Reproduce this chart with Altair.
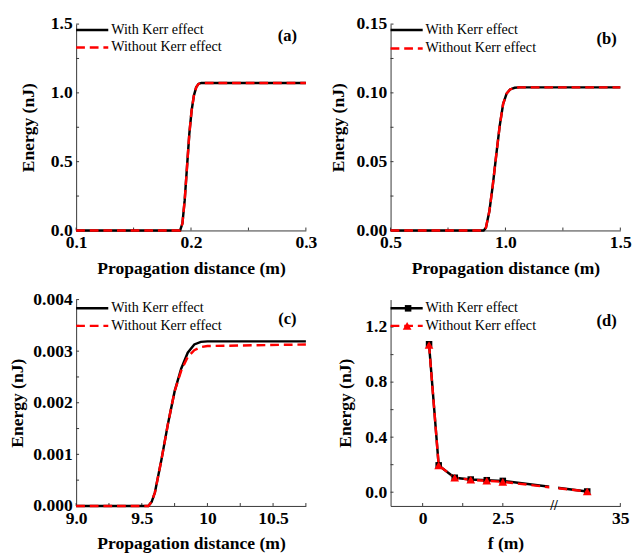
import altair as alt
import pandas as pd

FONT = "Liberation Serif"
BLACK = "#000000"
RED = "#ff0000"
AXC = "#333333"

# ---------------- data ----------------
# (a)
a_x = [0.10, 0.15, 0.188, 0.1905, 0.1925, 0.1945, 0.1965, 0.1985, 0.2005, 0.2025, 0.2045, 0.2065, 0.209, 0.25, 0.30]
a_kerr = [0, 0, 0, 0.0, 0.05, 0.22, 0.46, 0.70, 0.87, 0.98, 1.04, 1.065, 1.072, 1.072, 1.072]
a_nokerr = [0, 0, 0, 0.0, 0.05, 0.22, 0.46, 0.70, 0.87, 0.98, 1.04, 1.065, 1.072, 1.072, 1.072]
a_xticks = [0.1, 0.15, 0.2, 0.25, 0.3]
a_yticks = [0, 0.25, 0.5, 0.75, 1.0, 1.25, 1.5]

# (b)
b_x = [0.5, 0.8, 0.905, 0.915, 0.93, 0.945, 0.96, 0.975, 0.99, 1.005, 1.02, 1.04, 1.06, 1.5]
b_kerr = [0, 0, 0, 0.002, 0.014, 0.033, 0.055, 0.076, 0.092, 0.0995, 0.1025, 0.1037, 0.104, 0.104]
b_nokerr = [0, 0, 0, 0.002, 0.014, 0.033, 0.055, 0.076, 0.092, 0.0995, 0.1025, 0.1037, 0.104, 0.104]
b_xticks = [0.5, 0.75, 1.0, 1.25, 1.5]
b_yticks = [0, 0.025, 0.05, 0.075, 0.10, 0.125, 0.15]

# (c)
c_x = [9.0, 9.4, 9.55, 9.575, 9.60, 9.65, 9.70, 9.75, 9.80, 9.85, 9.90, 9.95, 10.0, 10.75]
c_kerr = [0, 0, 0, 0.00008, 0.00026, 0.00090, 0.00160, 0.00222, 0.00266, 0.00297, 0.00313, 0.00318, 0.00319, 0.00319]
c_nokerr = [0, 0, 0, 0.00008, 0.00026, 0.00090, 0.00160, 0.00222, 0.00262, 0.00289, 0.00302, 0.00308, 0.00310, 0.00313]
c_xticks = [9.0, 9.25, 9.5, 9.75, 10.0, 10.25, 10.5, 10.75]
c_yticks = [0, 0.0005, 0.001, 0.0015, 0.002, 0.0025, 0.003, 0.0035, 0.004]

# (d)
d_f = [0.2, 0.5, 1.0, 1.5, 2.0, 2.5, 32.5]
d_kerr = [1.075, 0.195, 0.105, 0.092, 0.087, 0.082, 0.005]
d_nokerr = [1.07, 0.195, 0.105, 0.090, 0.083, 0.075, 0.005]
d_break = [4.1]
d_xticks = [0, 1.25, 2.5, 35]
d_yticks = [0, 0.2, 0.4, 0.6, 0.8, 1.0, 1.2]

LEG_KERR = "With Kerr effect"
LEG_NOKERR = "Without Kerr effect"

W, H = 236, 212
TICK = 3
SQ_SIZE = 45
TRI_SIZE = 80


def df(x, y):
    return pd.DataFrame({"x": x, "y": y})


def axis_x(values, fmt=None, expr=None, title="Propagation distance (m)"):
    kw = dict(values=values, title=title, labelFlush=False, labelOverlap=False, titlePadding=8)
    if fmt:
        kw["format"] = fmt
    if expr:
        kw["labelExpr"] = expr
    return alt.Axis(**kw)


def axis_y(values, fmt, tp):
    return alt.Axis(values=values, format=fmt, title="Energy (nJ)", labelFlush=False,
                    labelOverlap=False, titlePadding=tp)


def ticks(X, Y, xt, yt):
    return [
        alt.Chart(pd.DataFrame({"x": xt})).mark_rule(color=AXC, strokeWidth=1).encode(
            x=X, y=alt.value(H), y2=alt.value(H - TICK)),
        alt.Chart(pd.DataFrame({"y": yt})).mark_rule(color=AXC, strokeWidth=1).encode(
            y=Y, x=alt.value(0), x2=alt.value(TICK)),
    ]


def legend(tag, tag_x, tag_y, y1, y2, markers=False):
    one = pd.DataFrame({"t": [0]})
    layers = [
        alt.Chart(one).mark_rule(color=BLACK, strokeWidth=2.5).encode(
            x=alt.value(0), x2=alt.value(33), y=alt.value(y1)),
        alt.Chart(one).mark_rule(color=RED, strokeWidth=2.5, strokeDash=[9, 5]).encode(
            x=alt.value(0), x2=alt.value(33), y=alt.value(y2)),
    ]
    if markers:
        layers += [
            alt.Chart(one).mark_point(shape="square", filled=True, color=BLACK, size=SQ_SIZE, opacity=1).encode(
                x=alt.value(18), y=alt.value(y1)),
            alt.Chart(one).mark_point(shape="triangle-up", filled=True, color=RED, size=TRI_SIZE, opacity=1).encode(
                x=alt.value(17), y=alt.value(y2)),
        ]
    layers += [
        alt.Chart(pd.DataFrame({"t": [LEG_KERR]})).mark_text(
            align="left", baseline="middle", font=FONT, fontSize=14.5, color=BLACK).encode(
            x=alt.value(36), y=alt.value(y1), text="t:N"),
        alt.Chart(pd.DataFrame({"t": [LEG_NOKERR]})).mark_text(
            align="left", baseline="middle", font=FONT, fontSize=14.5, color=BLACK).encode(
            x=alt.value(36), y=alt.value(y2), text="t:N"),
        alt.Chart(pd.DataFrame({"t": [tag]})).mark_text(
            align="center", baseline="middle", font=FONT, fontSize=17, fontWeight="bold", color=BLACK).encode(
            x=alt.value(tag_x), y=alt.value(tag_y), text="t:N"),
    ]
    return layers


def curve_panel(x, yk, yn, xdom, ydom, xax, yax, xt, yt, tag, tag_x, tag_y, y1, y2):
    X = alt.X("x:Q", scale=alt.Scale(domain=xdom, nice=False, zero=False), axis=xax)
    Y = alt.Y("y:Q", scale=alt.Scale(domain=ydom, nice=False, zero=False), axis=yax)
    k = alt.Chart(df(x, yk)).mark_line(color=BLACK, strokeWidth=2.5).encode(x=X, y=Y)
    n = alt.Chart(df(x, yn)).mark_line(color=RED, strokeWidth=2.5, strokeDash=[9, 5]).encode(x=X, y=Y)
    return alt.layer(*ticks(X, Y, xt, yt), k, n, *legend(tag, tag_x, tag_y, y1, y2)).properties(width=W, height=H)


pa = curve_panel(a_x, a_kerr, a_nokerr, [0.1, 0.3], [0, 1.5],
                 axis_x([0.1, 0.2, 0.3], ".1f"), axis_y([0, 0.5, 1.0, 1.5], ".1f", 13),
                 a_xticks, a_yticks, "(a)", 217, 12, 6, 24)
pb = curve_panel(b_x, b_kerr, b_nokerr, [0.5, 1.5], [0, 0.15],
                 axis_x([0.5, 1.0, 1.5], ".1f"), axis_y([0, 0.05, 0.10, 0.15], ".2f", 9),
                 b_xticks, b_yticks, "(b)", 222, 15, 6, 25)
pc = curve_panel(c_x, c_kerr, c_nokerr, [9.0, 10.75], [0, 0.004],
                 axis_x([9.0, 9.5, 10.0, 10.5], expr="datum.value == 10 ? '10' : format(datum.value, '.1f')"),
                 axis_y([0, 0.001, 0.002, 0.003, 0.004], ".3f", 7),
                 c_xticks, c_yticks, "(c)", 217, 20, 9, 27)

# (d) with broken x axis
XD = alt.X("x:Q", scale=alt.Scale(domain=[-1, 4.1, 30, 35], range=[0, 168, 168, W], nice=False, zero=False),
           axis=axis_x([0, 2.5, 35], expr="datum.value == 2.5 ? '2.5' : format(datum.value, 'd')", title="f (m)"))
YD = alt.Y("y:Q", scale=alt.Scale(domain=[-0.1, 1.4], nice=False, zero=False),
           axis=axis_y([0, 0.4, 0.8, 1.2], ".1f", 11))
dk_line = alt.Chart(df(d_f, d_kerr)).mark_line(color=BLACK, strokeWidth=2.5).encode(x=XD, y=YD)
dk_pts = alt.Chart(df(d_f, d_kerr)).mark_point(shape="square", filled=True, color=BLACK, size=SQ_SIZE, opacity=1).encode(x=XD, y=YD)
dn_line = alt.Chart(df(d_f, d_nokerr)).mark_line(color=RED, strokeWidth=2.5, strokeDash=[9, 5]).encode(x=XD, y=YD)
dn_pts = alt.Chart(df(d_f, d_nokerr)).mark_point(shape="triangle-up", filled=True, color=RED, size=TRI_SIZE, opacity=1).encode(x=XD, y=YD)
brk = pd.DataFrame({"x": [d_break[0] - 0.15], "x2": [d_break[0] + 26.2], "y": [-0.02], "y2": [0.08]})
gap = alt.Chart(brk).mark_rect(color="white").encode(x=XD, x2="x2:Q", y=YD, y2="y2:Q")
slash = alt.Chart(pd.DataFrame({"x": d_break, "y": [-0.1], "t": ["//"]})).mark_text(
    font=FONT, fontSize=14, fontWeight="bold", baseline="middle", align="center", color=BLACK).encode(x=XD, y=YD, text="t:N")
pd_ = alt.layer(*ticks(XD, YD, d_xticks, d_yticks), dk_line, dn_line, gap, dk_pts, dn_pts, slash,
                *legend("(d)", 222, 22, 9, 27, markers=True)).properties(width=W, height=H)

chart = alt.concat(pa, pb, pc, pd_, columns=2, spacing={"row": 71, "column": 87}, bounds="flush").properties(
    padding={"left": 0, "top": 0, "right": 0, "bottom": 0},
).configure_view(stroke=None).configure_axis(
    grid=False, ticks=False, domainColor=AXC, domainWidth=1,
    labelFont=FONT, labelFontWeight="bold", labelFontSize=18, labelColor=BLACK, labelPadding=4,
    titleFont=FONT, titleFontWeight="bold", titleFontSize=18, titleColor=BLACK,
)

chart.save("out.html", embed_options={"renderer": "svg", "actions": False})
